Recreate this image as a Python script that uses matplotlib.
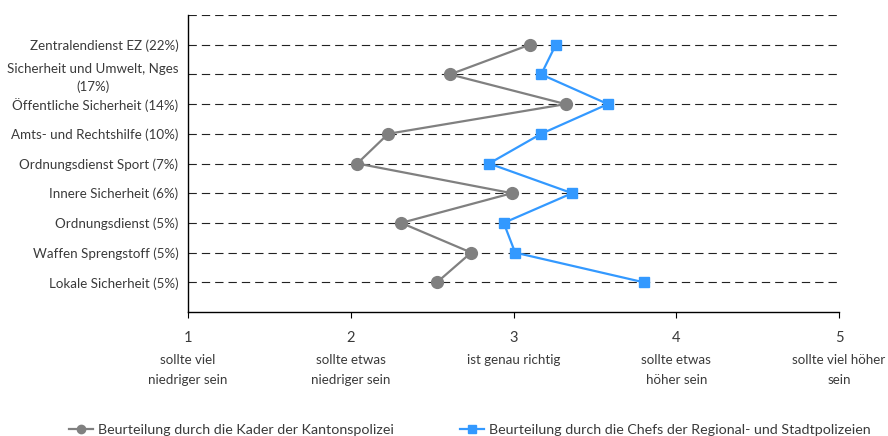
import matplotlib
matplotlib.use("Agg")
import matplotlib.pyplot as plt
from matplotlib.lines import Line2D

plt.rcParams['font.family'] = ['Lato', 'DejaVu Sans']

categories = [
    "Zentralendienst EZ (22%)",
    "Sicherheit und Umwelt, Nges\n(17%)",
    "Öffentliche Sicherheit (14%)",
    "Amts- und Rechtshilfe (10%)",
    "Ordnungsdienst Sport (7%)",
    "Innere Sicherheit (6%)",
    "Ordnungsdienst (5%)",
    "Waffen Sprengstoff (5%)",
    "Lokale Sicherheit (5%)",
]
kader = [3.10, 2.61, 3.32, 2.23, 2.04, 2.99, 2.31, 2.74, 2.53]
chefs = [3.26, 3.17, 3.58, 3.17, 2.85, 3.36, 2.94, 3.01, 3.80]
scale_values = [1, 2, 3, 4, 5]
scale_labels = [
    "sollte viel\nniedriger sein",
    "sollte etwas\nniedriger sein",
    "ist genau richtig",
    "sollte etwas\nhöher sein",
    "sollte viel höher\nsein",
]
series_names = [
    "Beurteilung durch die Kader der Kantonspolizei",
    "Beurteilung durch die Chefs der Regional- und Stadtpolizeien",
]

GRAY = '#808080'
BLUE = '#3399FF'
TEXT = '#3a3a3a'

fig = plt.figure(figsize=(8.88, 4.36), dpi=100)
ax = fig.add_axes([188/888, 1 - 312/436, (839-188)/888, (312-15)/436])

rows = list(range(1, len(categories) + 1))
ax.plot(kader, rows, color=GRAY, lw=1.6, marker='o', markersize=8.5, zorder=3)
ax.plot(chefs, rows, color=BLUE, lw=1.6, marker='s', markersize=7, zorder=3)

ax.set_xlim(1, 5)
ax.set_ylim(10, 0)
ax.set_yticks(range(0, len(categories) + 1))
ax.set_yticklabels([""] + categories, fontsize=9.6, color=TEXT,
                   multialignment='center', linespacing=1.5)
ax.tick_params(axis='y', length=0, pad=7)
ax.set_xticks(scale_values)
ax.set_xticklabels([str(v) for v in scale_values], fontsize=10.5, color=TEXT)
ax.tick_params(axis='x', direction='out', length=4, width=0.8, pad=10)

ax.grid(axis='y', color='#222222', lw=0.8, linestyle=(0, (7.5, 4.5)))
ax.set_axisbelow(True)
for s in ('top', 'right'):
    ax.spines[s].set_visible(False)
ax.spines['left'].set_linewidth(1.0)
ax.spines['bottom'].set_linewidth(1.0)

for v, lab in zip(scale_values, scale_labels):
    ax.annotate(lab, xy=(v, 0), xycoords=('data', 'axes fraction'),
                xytext=(0, -30), textcoords='offset points',
                ha='center', va='top', fontsize=9.6, color=TEXT,
                linespacing=1.85)

handles = [
    Line2D([], [], color=GRAY, lw=1.6, marker='o', markersize=6),
    Line2D([], [], color=BLUE, lw=1.6, marker='s', markersize=5.5),
]
fig.legend(handles=handles, labels=series_names, loc='lower left',
           bbox_to_anchor=(56/888, -0.03), ncol=2, frameon=False,
           fontsize=10.3, columnspacing=4.6, handlelength=1.7,
           handletextpad=0.35, labelcolor=TEXT)

fig.savefig("out.png", dpi=100)
